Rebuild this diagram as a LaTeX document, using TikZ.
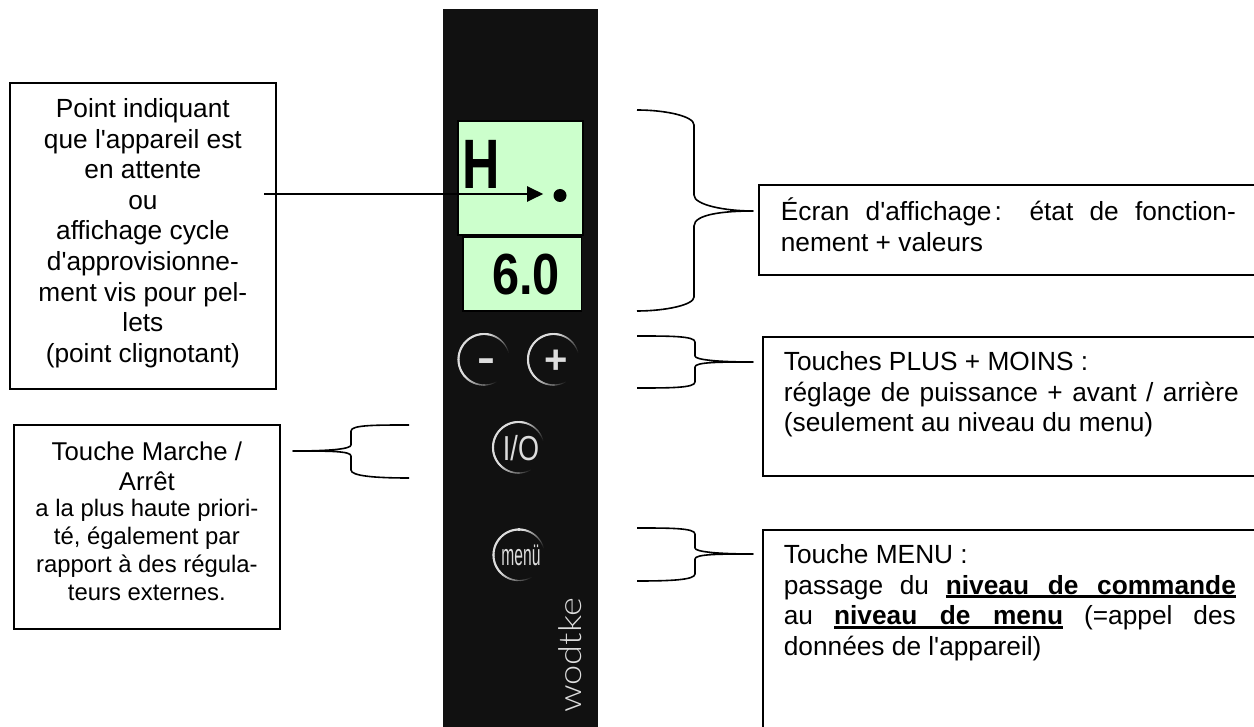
\documentclass[tikz,border=0pt]{standalone}
\usepackage{fontspec}
\setmainfont{Liberation Sans}[Ligatures=TeXOff]
\newfontfamily\logofont{Lato Light}
\usetikzlibrary{arrows.meta}
\newdimen\px \px=0.75pt
\definecolor{panelc}{HTML}{111111}
\definecolor{screenc}{HTML}{CCFFCC}
\definecolor{keyc}{HTML}{DDDDDD}
% box text: total height, width, first baseline offset, content
\newcommand{\boxtxt}[4]{\parbox[c][#1\px][t]{#2\px}{\hyphenpenalty=10000\fontsize{19.7}{22.9}\selectfont\rule{0pt}{#3\px}#4}}
\newcommand{\ulbox}[2]{\rlap{\rule[-3.6\px]{#1\px}{2.6\px}}\hbox to #1\px{\bfseries #2}}
\newcommand{\fadearc}[2]{%
  \foreach \a in {12,16,...,300}{%
    \pgfmathsetmacro{\ival}{max(0,min(100,min((\a-12)*1.5,(300-\a)*1.3)))}%
    \pgfmathsetmacro{\wval}{0.5+1.05*\ival/100}%
    \draw[draw=keyc!\ival!panelc,line width=\wval pt,line cap=round]
      ({#1+25.5*cos(\a)},{#2-25.5*sin(\a)}) -- ({#1+25.5*cos(\a+4)},{#2-25.5*sin(\a+4)});
  }}
\tikzset{
  lbl/.style={draw=black,fill=white,line width=1.3pt,inner sep=0pt,anchor=north west,align=left},
  brace/.style={draw=black,line width=1.2pt,line join=round},
  lcd/.style={draw=black,fill=screenc,line width=1.35pt,inner sep=0pt,anchor=north west},
  keytxt/.style={text=keyc,inner sep=0pt,anchor=base},
}
\begin{document}
\begin{tikzpicture}[x=0.75pt,y=-0.75pt]
\useasboundingbox (0,0) rectangle (1254,727);
\begin{scope}
\clip (0,0) rectangle (1254,727);
% panel
\node[fill=panelc,inner sep=0pt,anchor=north west,minimum width=116.25pt,minimum height=547.5pt] (panel) at (443,9) {};
\node[lcd,minimum width=94pt,minimum height=85.5pt] (lcdtop) at (457,120) {};
\node[lcd,minimum width=89pt,minimum height=55.5pt] (lcdbot) at (462,236) {};
\node[inner sep=0pt,anchor=base west] (hh) at (462,189) {\scalebox{0.74}[1]{\fontsize{52.5}{52.5}\selectfont\bfseries H}};
\node[inner sep=0pt,anchor=base west] (val) at (492,295) {\scalebox{0.84}[1]{\fontsize{43.5}{43.5}\selectfont\bfseries 6.0}};
\node[circle,fill=black,inner sep=0pt,minimum size=9.75pt] (dot) at (560,195.5) {};
% keys
\fadearc{484}{359.5}
\fadearc{553.5}{359.5}
\fadearc{518.5}{447.5}
\fadearc{519}{555}
\node[keytxt] (minus) at (486,372) {\scalebox{1.35}[1]{\fontsize{30}{30}\selectfont\bfseries -}};
\node[keytxt] (plus) at (556,374) {\scalebox{1}[1]{\fontsize{30}{30}\selectfont\bfseries +}};
\node[keytxt] (io) at (521,460) {\scalebox{0.78}[1]{\fontsize{26}{26}\selectfont I/O}};
\node[keytxt] (menu) at (521,565) {\scalebox{0.52}[1]{\fontsize{22.5}{22.5}\selectfont menü}};
\node[text=keyc,inner sep=0pt,anchor=base west,rotate=90] (logo) at (581,713) {\scalebox{1.15}[1]{\logofont\fontsize{23.6}{23.6}\selectfont wodtke}};
% left boxes
\node[lbl] (bpoint) at (9,82) {\boxtxt{306}{266}{35}{\centering Point indiquant\\que l'appareil est\\en attente\\ou\\affichage cycle\\d'approvisionne-\\ment vis pour pel-\\lets\\(point clignotant)}};
\node[lbl] (bmarche) at (13,424) {\parbox[c][204\px][t]{266\px}{\centering\fontsize{19.3}{22.5}\selectfont\rule{0pt}{36\px}Touche Marche /\\Arrêt\\[-2\px]\fontsize{17.9}{21}\selectfont a la plus haute priori-\\té, également par\\rapport à des régula-\\teurs externes.}};
% right boxes
\node[lbl] (becran) at (758,184) {\hspace{22\px}\boxtxt{90}{455}{36}{Écran d'affichage\hspace{0.12em}: état de fonction-\linebreak nement + valeurs}\hspace{22\px}};
\node[lbl] (bplus) at (762,336) {\hspace{21\px}\boxtxt{139}{455}{34}{Touches PLUS + MOINS :\\réglage de puissance + avant / arrière\linebreak(seulement au niveau du menu)}\hspace{21\px}};
\node[lbl] (bmenu) at (762,529) {\hspace{21\px}\boxtxt{210}{452}{34}{Touche MENU :\\passage du \ulbox{290}{niveau\hfil de\hfil commande}\linebreak au \ulbox{229}{niveau\hfil de\hfil menu} (=appel des\linebreak données de l'appareil)}\hspace{21\px}};
% arrow
\coordinate (astart) at (264,194);
\draw[black,line width=1.5pt,-{Triangle[length=12pt,width=11.25pt]},shorten >=7.5pt] (astart) -- (astart -| dot.west);
% braces
\coordinate (e1t) at (637,110); \coordinate (e1b) at (637,311); \coordinate (e1m) at (753,211);
\draw[brace] (e1t) .. controls (665,110) and (694,116) .. (694,125) -- (694,195)
  .. controls (694,205) and (725,211) .. (e1m)
  .. controls (725,211) and (694,214) .. (694,226) -- (694,297)
  .. controls (694,305) and (665,311) .. (e1b);
\coordinate (e2t) at (637,336); \coordinate (e2b) at (637,388); \coordinate (e2m) at (753,362);
\draw[brace] (e2t) .. controls (670,336) and (695,336) .. (695,342) -- (695,356)
  .. controls (695,360) and (720,362) .. (e2m)
  .. controls (720,362) and (695,362) .. (695,367) -- (695,382)
  .. controls (695,388) and (670,388) .. (e2b);
\coordinate (e3t) at (637,528); \coordinate (e3b) at (637,581); \coordinate (e3m) at (753,554);
\draw[brace] (e3t) .. controls (670,528) and (695,528) .. (695,534) -- (695,548)
  .. controls (695,552) and (720,554) .. (e3m)
  .. controls (720,554) and (695,554) .. (695,559) -- (695,574)
  .. controls (695,580) and (670,581) .. (e3b);
\coordinate (e4t) at (409,425); \coordinate (e4b) at (409,478); \coordinate (e4m) at (293,451);
\draw[brace] (e4t) .. controls (375,425) and (351,425) .. (351,431) -- (351,445)
  .. controls (351,449) and (330,451) .. (e4m)
  .. controls (330,451) and (351,451) .. (351,456) -- (351,470)
  .. controls (351,476) and (375,478) .. (e4b);
\end{scope}
\end{tikzpicture}
\end{document}
